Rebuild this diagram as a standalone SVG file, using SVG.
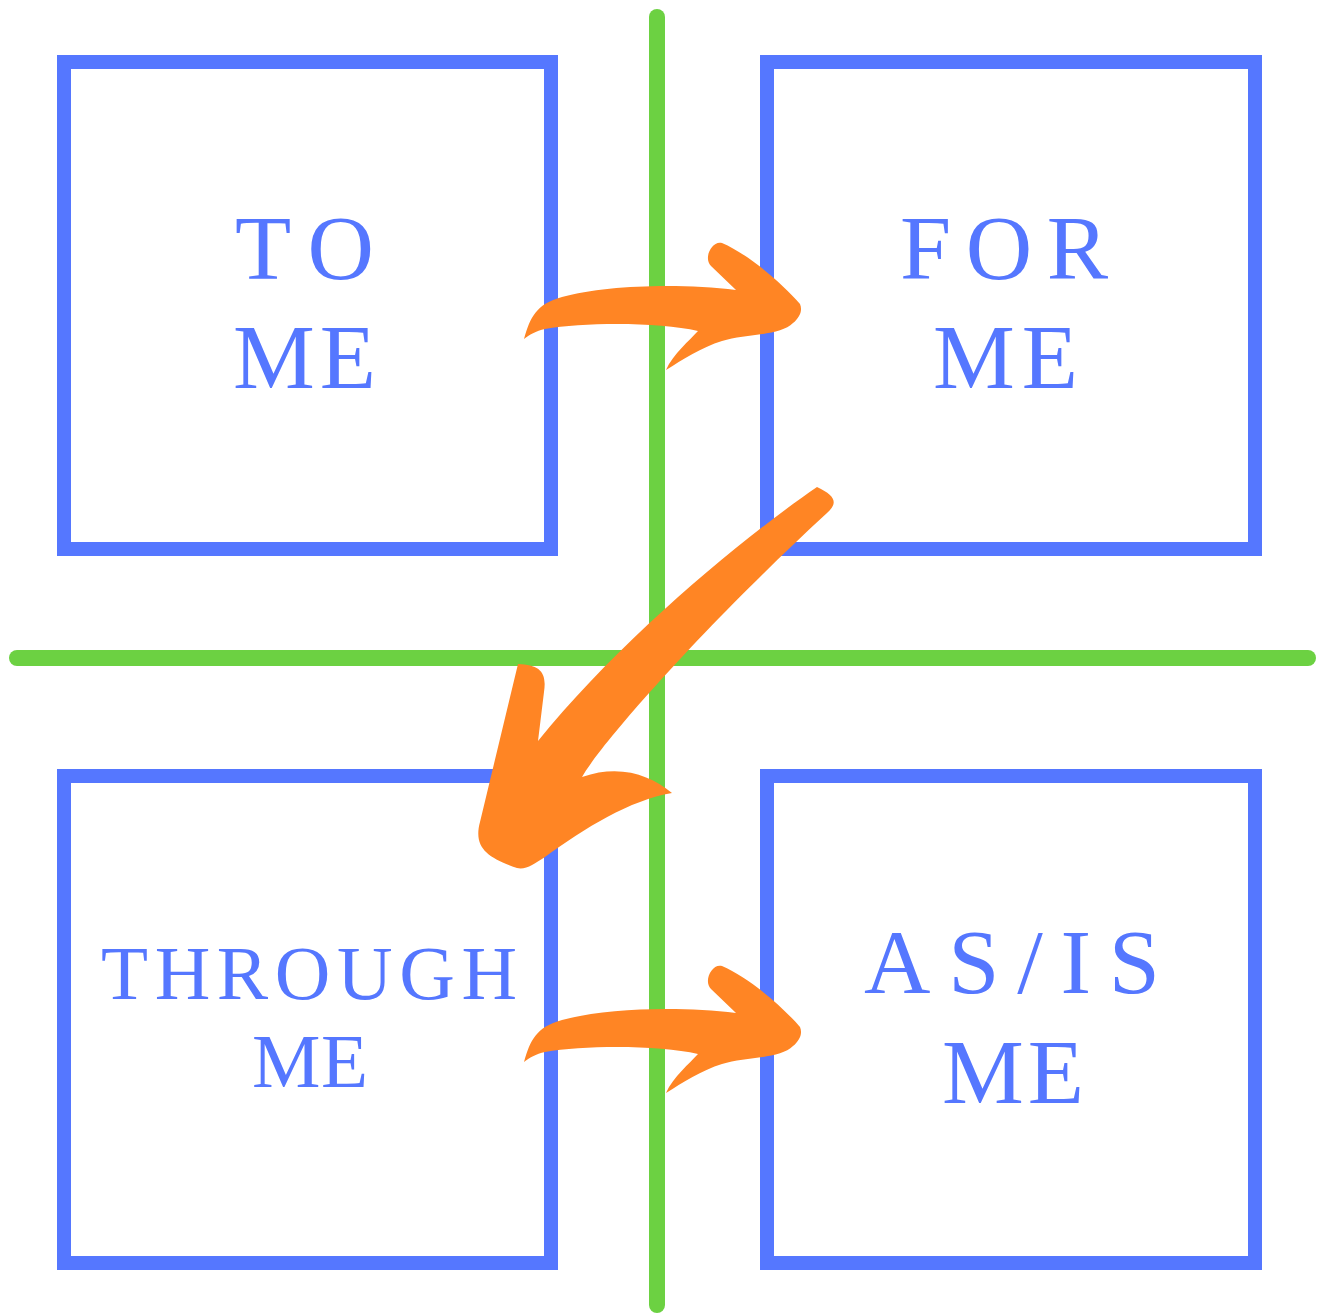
<svg xmlns="http://www.w3.org/2000/svg" width="1319" height="1314" viewBox="0 0 1319 1314">
<style>
.box{fill:none;stroke:#5577FF;stroke-width:14}
.axis{stroke:#6CD142;stroke-width:16;stroke-linecap:round}
.lbl{font-family:"Liberation Serif","DejaVu Serif",serif;fill:#5577FF;font-size:92px}
.sm{font-size:77px}
.arrow{fill:#FF8524}
</style>
<rect width="1319" height="1314" fill="#FFFFFF"/>
<g id="axes">
<line class="axis" x1="657" y1="17" x2="657" y2="1305"/>
<line class="axis" x1="17" y1="658" x2="1308" y2="658"/>
</g>
<g id="to-me">
<rect class="box" x="64" y="62" width="487" height="487"/>
<text class="lbl" x="235" y="279" textLength="139" lengthAdjust="spacing">TO</text>
<text class="lbl" x="233" y="388" textLength="143" lengthAdjust="spacing">ME</text>
</g>
<g id="for-me">
<rect class="box" x="767" y="62" width="488" height="487"/>
<text class="lbl" x="900" y="279" textLength="208" lengthAdjust="spacing">FOR</text>
<text class="lbl" x="933" y="388" textLength="145" lengthAdjust="spacing">ME</text>
</g>
<g id="through-me">
<rect class="box" x="64" y="776" width="487" height="487"/>
<text class="lbl sm" x="101" y="999" textLength="416" lengthAdjust="spacing">THROUGH</text>
<text class="lbl sm" x="252" y="1087" textLength="116" lengthAdjust="spacing">ME</text>
</g>
<g id="as-is-me">
<rect class="box" x="767" y="776" width="488" height="487"/>
<text class="lbl" x="864" y="993" textLength="296" lengthAdjust="spacing">AS/IS</text>
<text class="lbl" x="942" y="1103" textLength="142" lengthAdjust="spacing">ME</text>
</g>
<g id="connectors">
<path id="harrow" class="arrow" d="M524,339 C530,318 536,304 562,297 C605,285 680,283 736,290 L711,266 C703,258 712,240 722,243 C748,254 782,283 800,304 C803,311 799,318 793,323 C780,336 745,334 722,341 C702,347 682,360 666,370 C673,354 690,340 698,331 C660,322 585,322 545,329 C536,331 529,335 524,339 Z"/>
<path class="arrow" transform="translate(0,723)" d="M524,339 C530,318 536,304 562,297 C605,285 680,283 736,290 L711,266 C703,258 712,240 722,243 C748,254 782,283 800,304 C803,311 799,318 793,323 C780,336 745,334 722,341 C702,347 682,360 666,370 C673,354 690,340 698,331 C660,322 585,322 545,329 C536,331 529,335 524,339 Z"/>
<path class="arrow" d="M817,487 C740,540 620,640 538,741 L544,692 C547,672 540,665 518,664 L480,822 C473,848 488,858 517,868 C526,870 534,864 545,857 C585,828 630,800 672,793 C650,775 620,764 582,777 C600,745 700,630 827,513 C838,503 836,496 817,487 Z"/>
</g>
</svg>
